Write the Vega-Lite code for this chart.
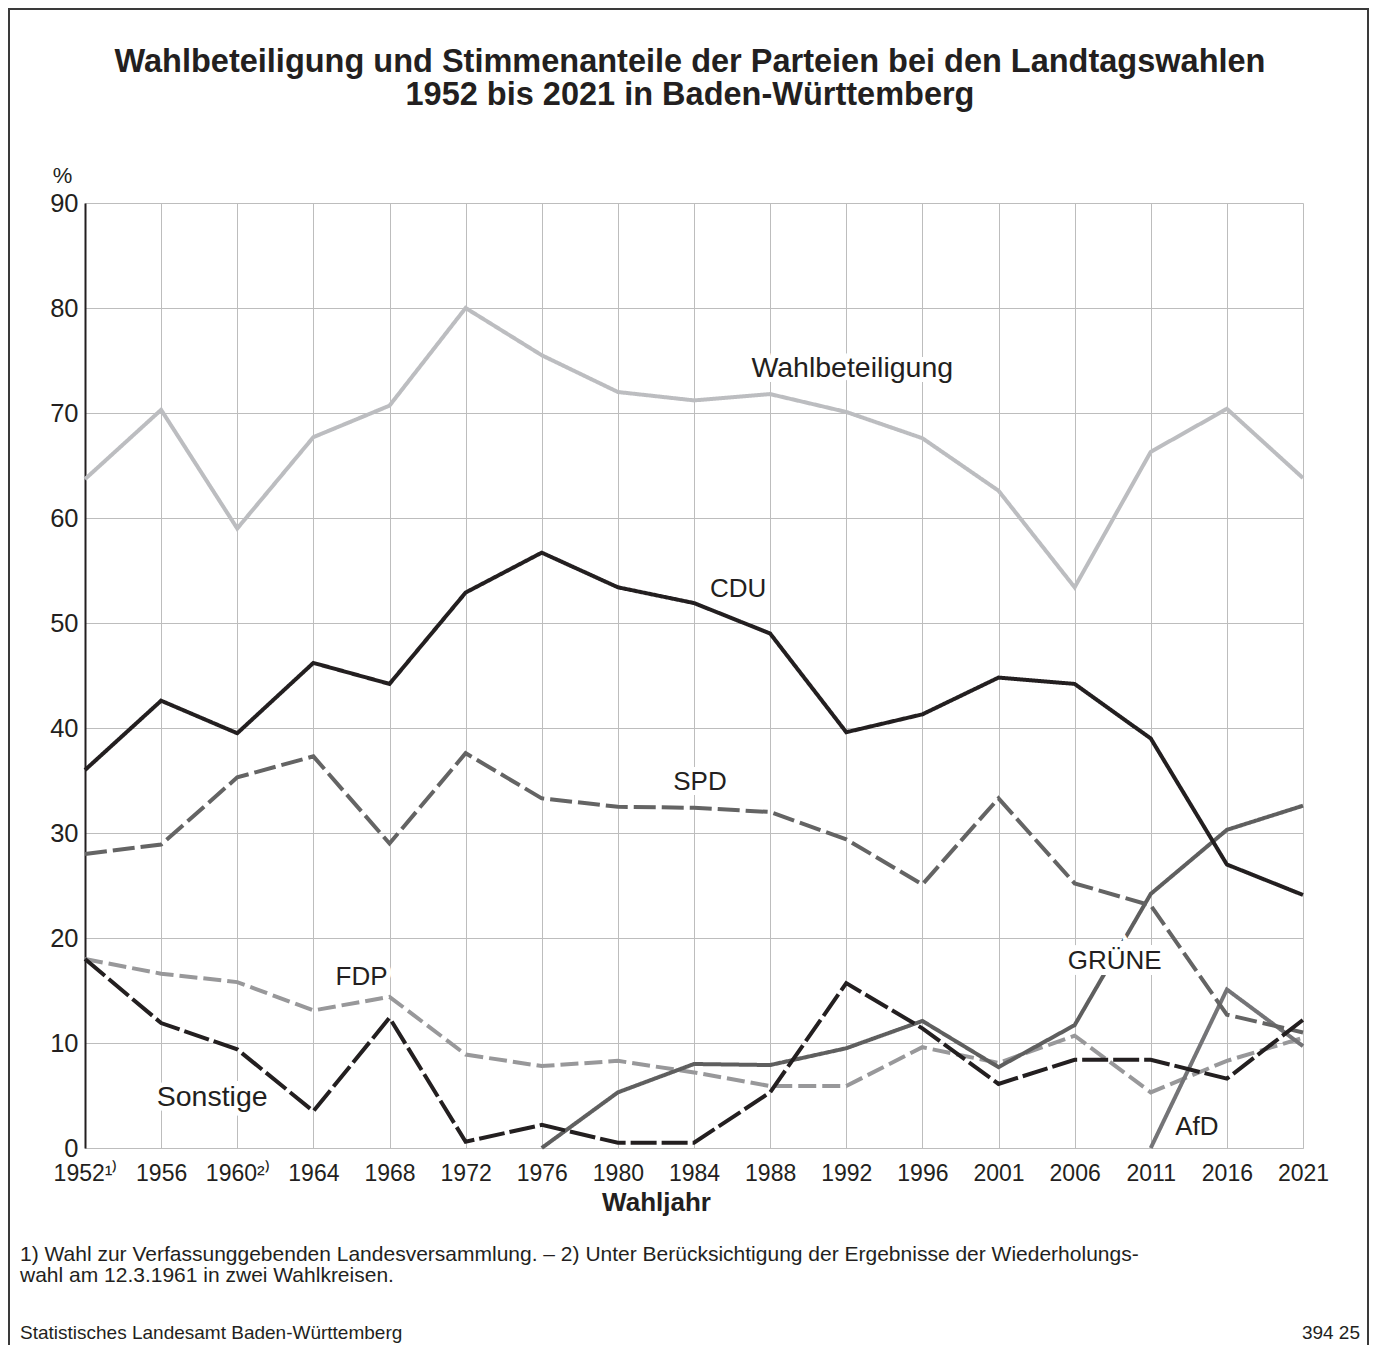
{
  "$schema": "https://vega.github.io/schema/vega-lite/v6.json",
  "width": 1218,
  "height": 945,
  "autosize": "none",
  "padding": {"left": 85, "top": 203, "right": 72, "bottom": 197},
  "background": "white",
  "title": {
    "text": ["Wahlbeteiligung und Stimmenanteile der Parteien bei den Landtagswahlen", "1952 bis 2021 in Baden-Württemberg"],
    "anchor": "middle",
    "fontSize": 32.5,
    "fontWeight": "bold",
    "font": "Liberation Sans",
    "color": "#231f20",
    "lineHeight": 33,
    "offset": 0,
    "dy": 103,
    "dx": -4
  },
  "datasets": {
    "series": [
      {"Reihe": "Wahlbeteiligung", "Jahr": "1952", "Prozent": 63.7},
      {"Reihe": "Wahlbeteiligung", "Jahr": "1956", "Prozent": 70.3},
      {"Reihe": "Wahlbeteiligung", "Jahr": "1960", "Prozent": 59.0},
      {"Reihe": "Wahlbeteiligung", "Jahr": "1964", "Prozent": 67.7},
      {"Reihe": "Wahlbeteiligung", "Jahr": "1968", "Prozent": 70.7},
      {"Reihe": "Wahlbeteiligung", "Jahr": "1972", "Prozent": 80.0},
      {"Reihe": "Wahlbeteiligung", "Jahr": "1976", "Prozent": 75.5},
      {"Reihe": "Wahlbeteiligung", "Jahr": "1980", "Prozent": 72.0},
      {"Reihe": "Wahlbeteiligung", "Jahr": "1984", "Prozent": 71.2},
      {"Reihe": "Wahlbeteiligung", "Jahr": "1988", "Prozent": 71.8},
      {"Reihe": "Wahlbeteiligung", "Jahr": "1992", "Prozent": 70.1},
      {"Reihe": "Wahlbeteiligung", "Jahr": "1996", "Prozent": 67.6},
      {"Reihe": "Wahlbeteiligung", "Jahr": "2001", "Prozent": 62.6},
      {"Reihe": "Wahlbeteiligung", "Jahr": "2006", "Prozent": 53.4},
      {"Reihe": "Wahlbeteiligung", "Jahr": "2011", "Prozent": 66.3},
      {"Reihe": "Wahlbeteiligung", "Jahr": "2016", "Prozent": 70.4},
      {"Reihe": "Wahlbeteiligung", "Jahr": "2021", "Prozent": 63.8},
      {"Reihe": "FDP", "Jahr": "1952", "Prozent": 18.0},
      {"Reihe": "FDP", "Jahr": "1956", "Prozent": 16.6},
      {"Reihe": "FDP", "Jahr": "1960", "Prozent": 15.8},
      {"Reihe": "FDP", "Jahr": "1964", "Prozent": 13.1},
      {"Reihe": "FDP", "Jahr": "1968", "Prozent": 14.4},
      {"Reihe": "FDP", "Jahr": "1972", "Prozent": 8.9},
      {"Reihe": "FDP", "Jahr": "1976", "Prozent": 7.8},
      {"Reihe": "FDP", "Jahr": "1980", "Prozent": 8.3},
      {"Reihe": "FDP", "Jahr": "1984", "Prozent": 7.2},
      {"Reihe": "FDP", "Jahr": "1988", "Prozent": 5.9},
      {"Reihe": "FDP", "Jahr": "1992", "Prozent": 5.9},
      {"Reihe": "FDP", "Jahr": "1996", "Prozent": 9.6},
      {"Reihe": "FDP", "Jahr": "2001", "Prozent": 8.1},
      {"Reihe": "FDP", "Jahr": "2006", "Prozent": 10.7},
      {"Reihe": "FDP", "Jahr": "2011", "Prozent": 5.3},
      {"Reihe": "FDP", "Jahr": "2016", "Prozent": 8.3},
      {"Reihe": "FDP", "Jahr": "2021", "Prozent": 10.5},
      {"Reihe": "GRÜNE", "Jahr": "1976", "Prozent": 0.0},
      {"Reihe": "GRÜNE", "Jahr": "1980", "Prozent": 5.3},
      {"Reihe": "GRÜNE", "Jahr": "1984", "Prozent": 8.0},
      {"Reihe": "GRÜNE", "Jahr": "1988", "Prozent": 7.9},
      {"Reihe": "GRÜNE", "Jahr": "1992", "Prozent": 9.5},
      {"Reihe": "GRÜNE", "Jahr": "1996", "Prozent": 12.1},
      {"Reihe": "GRÜNE", "Jahr": "2001", "Prozent": 7.7},
      {"Reihe": "GRÜNE", "Jahr": "2006", "Prozent": 11.7},
      {"Reihe": "GRÜNE", "Jahr": "2011", "Prozent": 24.2},
      {"Reihe": "GRÜNE", "Jahr": "2016", "Prozent": 30.3},
      {"Reihe": "GRÜNE", "Jahr": "2021", "Prozent": 32.6},
      {"Reihe": "AfD", "Jahr": "2011", "Prozent": 0.0},
      {"Reihe": "AfD", "Jahr": "2016", "Prozent": 15.1},
      {"Reihe": "AfD", "Jahr": "2021", "Prozent": 9.7},
      {"Reihe": "SPD", "Jahr": "1952", "Prozent": 28.0},
      {"Reihe": "SPD", "Jahr": "1956", "Prozent": 28.9},
      {"Reihe": "SPD", "Jahr": "1960", "Prozent": 35.3},
      {"Reihe": "SPD", "Jahr": "1964", "Prozent": 37.3},
      {"Reihe": "SPD", "Jahr": "1968", "Prozent": 29.0},
      {"Reihe": "SPD", "Jahr": "1972", "Prozent": 37.6},
      {"Reihe": "SPD", "Jahr": "1976", "Prozent": 33.3},
      {"Reihe": "SPD", "Jahr": "1980", "Prozent": 32.5},
      {"Reihe": "SPD", "Jahr": "1984", "Prozent": 32.4},
      {"Reihe": "SPD", "Jahr": "1988", "Prozent": 32.0},
      {"Reihe": "SPD", "Jahr": "1992", "Prozent": 29.4},
      {"Reihe": "SPD", "Jahr": "1996", "Prozent": 25.1},
      {"Reihe": "SPD", "Jahr": "2001", "Prozent": 33.3},
      {"Reihe": "SPD", "Jahr": "2006", "Prozent": 25.2},
      {"Reihe": "SPD", "Jahr": "2011", "Prozent": 23.1},
      {"Reihe": "SPD", "Jahr": "2016", "Prozent": 12.7},
      {"Reihe": "SPD", "Jahr": "2021", "Prozent": 11.0},
      {"Reihe": "CDU", "Jahr": "1952", "Prozent": 36.0},
      {"Reihe": "CDU", "Jahr": "1956", "Prozent": 42.6},
      {"Reihe": "CDU", "Jahr": "1960", "Prozent": 39.5},
      {"Reihe": "CDU", "Jahr": "1964", "Prozent": 46.2},
      {"Reihe": "CDU", "Jahr": "1968", "Prozent": 44.2},
      {"Reihe": "CDU", "Jahr": "1972", "Prozent": 52.9},
      {"Reihe": "CDU", "Jahr": "1976", "Prozent": 56.7},
      {"Reihe": "CDU", "Jahr": "1980", "Prozent": 53.4},
      {"Reihe": "CDU", "Jahr": "1984", "Prozent": 51.9},
      {"Reihe": "CDU", "Jahr": "1988", "Prozent": 49.0},
      {"Reihe": "CDU", "Jahr": "1992", "Prozent": 39.6},
      {"Reihe": "CDU", "Jahr": "1996", "Prozent": 41.3},
      {"Reihe": "CDU", "Jahr": "2001", "Prozent": 44.8},
      {"Reihe": "CDU", "Jahr": "2006", "Prozent": 44.2},
      {"Reihe": "CDU", "Jahr": "2011", "Prozent": 39.0},
      {"Reihe": "CDU", "Jahr": "2016", "Prozent": 27.0},
      {"Reihe": "CDU", "Jahr": "2021", "Prozent": 24.1},
      {"Reihe": "Sonstige", "Jahr": "1952", "Prozent": 18.0},
      {"Reihe": "Sonstige", "Jahr": "1956", "Prozent": 11.9},
      {"Reihe": "Sonstige", "Jahr": "1960", "Prozent": 9.4},
      {"Reihe": "Sonstige", "Jahr": "1964", "Prozent": 3.5},
      {"Reihe": "Sonstige", "Jahr": "1968", "Prozent": 12.4},
      {"Reihe": "Sonstige", "Jahr": "1972", "Prozent": 0.6},
      {"Reihe": "Sonstige", "Jahr": "1976", "Prozent": 2.2},
      {"Reihe": "Sonstige", "Jahr": "1980", "Prozent": 0.5},
      {"Reihe": "Sonstige", "Jahr": "1984", "Prozent": 0.5},
      {"Reihe": "Sonstige", "Jahr": "1988", "Prozent": 5.3},
      {"Reihe": "Sonstige", "Jahr": "1992", "Prozent": 15.7},
      {"Reihe": "Sonstige", "Jahr": "1996", "Prozent": 11.4},
      {"Reihe": "Sonstige", "Jahr": "2001", "Prozent": 6.1},
      {"Reihe": "Sonstige", "Jahr": "2006", "Prozent": 8.4},
      {"Reihe": "Sonstige", "Jahr": "2011", "Prozent": 8.4},
      {"Reihe": "Sonstige", "Jahr": "2016", "Prozent": 6.6},
      {"Reihe": "Sonstige", "Jahr": "2021", "Prozent": 12.2}
    ],
    "labels": [
      {"label": "Wahlbeteiligung", "Jahr": "1992", "Prozent": 74.3},
      {"label": "CDU", "Jahr": "1988", "Prozent": 53.2},
      {"label": "SPD", "Jahr": "1984", "Prozent": 34.9},
      {"label": "FDP", "Jahr": "1968", "Prozent": 16.3},
      {"label": "Sonstige", "Jahr": "1956", "Prozent": 4.9},
      {"label": "GRÜNE", "Jahr": "2011", "Prozent": 17.8},
      {"label": "AfD", "Jahr": "2016", "Prozent": 2.0}
    ],
    "footer": [
      {"row": "note1", "pos": "left", "kind": "note", "text": "1) Wahl zur Verfassunggebenden Landesversammlung. – 2) Unter Berücksichtigung der Ergebnisse der Wiederholungs-"},
      {"row": "note2", "pos": "left", "kind": "note", "text": "wahl am 12.3.1961 in zwei Wahlkreisen."},
      {"row": "source", "pos": "left", "kind": "source", "text": "Statistisches Landesamt Baden-Württemberg"},
      {"row": "source", "pos": "right", "kind": "code", "text": "394 25"}
    ]
  },
  "layer": [
    {
      "encoding": {
        "x": {
          "field": "Jahr",
          "type": "ordinal",
          "scale": {"type": "point", "padding": 0, "domain": ["1952","1956","1960","1964","1968","1972","1976","1980","1984","1988","1992","1996","2001","2006","2011","2016","2021"]},
          "axis": {
            "title": "Wahljahr",
            "labelAngle": 0,
            "labelFontSize": 23,
            "labelPadding": 14,
            "labelOverlap": false,
            "labelExpr": "datum.value == '1952' ? '1952¹⁾' : datum.value == '1960' ? '1960²⁾' : datum.label",
            "ticks": false,
            "domain": true,
            "domainColor": "#bdbdbd",
            "domainWidth": 1,
            "grid": true,
            "titleFontSize": 26,
            "titleFontWeight": "bold",
            "titleX": 571,
            "titleY": 54,
            "titleBaseline": "middle"
          }
        },
        "y": {
          "field": "Prozent",
          "type": "quantitative",
          "scale": {"domain": [0, 90], "nice": false},
          "axis": {
            "title": "%",
            "values": [0,10,20,30,40,50,60,70,80,90],
            "labelFontSize": 25.5,
            "labelPadding": 7,
            "ticks": false,
            "domain": true,
            "domainColor": "#231f20",
            "domainWidth": 2,
            "grid": true,
            "titleAngle": 0,
            "titleX": -23,
            "titleY": -28,
            "titleAlign": "center",
            "titleBaseline": "middle",
            "titleFontSize": 22,
            "titleFontWeight": "normal"
          }
        }
      },
      "layer": [
        {
          "data": {"name": "series"},
          "mark": {"type": "line", "strokeWidth": 4, "strokeCap": "butt", "strokeJoin": "miter"},
          "encoding": {
            "color": {
              "field": "Reihe",
              "type": "nominal",
              "legend": null,
              "scale": {
                "domain": ["Wahlbeteiligung", "FDP", "GRÜNE", "AfD", "SPD", "CDU", "Sonstige"],
                "range": ["#bcbdc0", "#98989a", "#5f5f5f", "#747477", "#646464", "#231f20", "#231f20"]
              }
            },
            "strokeDash": {
              "field": "Reihe",
              "type": "nominal",
              "legend": null,
              "scale": {
                "domain": ["Wahlbeteiligung", "FDP", "GRÜNE", "AfD", "SPD", "CDU", "Sonstige"],
                "range": [[1, 0], [18, 6], [1, 0], [1, 0], [22, 6], [1, 0], [26, 5]]
              }
            }
          }
        },
        {
          "data": {"name": "labels"},
          "transform": [{"filter": "datum.label == 'Wahlbeteiligung'"}],
          "encoding": {"text": {"field": "label"}},
          "layer": [
            {"mark": {"type": "text", "fontSize": 28.5, "dx": 6, "fill": "white", "stroke": "white", "strokeWidth": 10}},
            {"mark": {"type": "text", "fontSize": 28.5, "dx": 6, "color": "#231f20"}}
          ]
        },
        {
          "data": {"name": "labels"},
          "transform": [{"filter": "datum.label == 'CDU'"}],
          "encoding": {"text": {"field": "label"}},
          "layer": [
            {"mark": {"type": "text", "fontSize": 26, "dx": -32, "fill": "white", "stroke": "white", "strokeWidth": 10}},
            {"mark": {"type": "text", "fontSize": 26, "dx": -32, "color": "#231f20"}}
          ]
        },
        {
          "data": {"name": "labels"},
          "transform": [{"filter": "datum.label == 'SPD'"}],
          "encoding": {"text": {"field": "label"}},
          "layer": [
            {"mark": {"type": "text", "fontSize": 26, "dx": 6, "fill": "white", "stroke": "white", "strokeWidth": 10}},
            {"mark": {"type": "text", "fontSize": 26, "dx": 6, "color": "#231f20"}}
          ]
        },
        {
          "data": {"name": "labels"},
          "transform": [{"filter": "datum.label == 'FDP'"}],
          "encoding": {"text": {"field": "label"}},
          "layer": [
            {"mark": {"type": "text", "fontSize": 26, "dx": -28, "fill": "white", "stroke": "white", "strokeWidth": 10}},
            {"mark": {"type": "text", "fontSize": 26, "dx": -28, "color": "#231f20"}}
          ]
        },
        {
          "data": {"name": "labels"},
          "transform": [{"filter": "datum.label == 'Sonstige'"}],
          "encoding": {"text": {"field": "label"}},
          "layer": [
            {"mark": {"type": "text", "fontSize": 28.5, "dx": 51, "fill": "white", "stroke": "white", "strokeWidth": 10}},
            {"mark": {"type": "text", "fontSize": 28.5, "dx": 51, "color": "#231f20"}}
          ]
        },
        {
          "data": {"name": "labels"},
          "transform": [{"filter": "datum.label == 'GRÜNE'"}],
          "encoding": {"text": {"field": "label"}},
          "layer": [
            {"mark": {"type": "text", "fontSize": 26, "dx": -36, "fill": "white", "stroke": "white", "strokeWidth": 12}},
            {"mark": {"type": "text", "fontSize": 26, "dx": -36, "color": "#231f20"}}
          ]
        },
        {
          "data": {"name": "labels"},
          "transform": [{"filter": "datum.label == 'AfD'"}],
          "encoding": {"text": {"field": "label"}},
          "layer": [
            {"mark": {"type": "text", "fontSize": 26, "dx": -30, "fill": "white", "stroke": "white", "strokeWidth": 10}},
            {"mark": {"type": "text", "fontSize": 26, "dx": -30, "color": "#231f20"}}
          ]
        }
      ]
    },
    {
      "data": {"name": "footer"},
      "encoding": {
        "x": {"field": "pos", "type": "nominal", "axis": null, "scale": {"type": "point", "padding": 0, "domain": ["left", "right"], "range": [-65, 1275]}},
        "y": {"field": "row", "type": "nominal", "axis": null, "scale": {"type": "point", "padding": 0, "domain": ["note1", "note2", "gap1", "gap2", "source"], "range": [1052, 1136]}},
        "text": {"field": "text"}
      },
      "layer": [
        {"transform": [{"filter": "datum.kind == 'note'"}], "mark": {"type": "text", "align": "left", "baseline": "middle", "fontSize": 21, "color": "#231f20"}},
        {"transform": [{"filter": "datum.kind == 'source'"}], "mark": {"type": "text", "align": "left", "baseline": "middle", "fontSize": 19, "dy": -6, "color": "#231f20"}},
        {"transform": [{"filter": "datum.kind == 'code'"}], "mark": {"type": "text", "align": "right", "baseline": "middle", "fontSize": 19, "dy": -6, "color": "#231f20"}}
      ]
    },
    {
      "data": {"values": [{}]},
      "mark": {"type": "rect", "fill": null, "filled": false, "stroke": "#3a3a3a", "strokeWidth": 2},
      "encoding": {
        "x": {"datum": "left", "type": "nominal", "axis": null, "scale": {"type": "point", "padding": 0, "domain": ["left", "right"], "range": [-76, 1283]}},
        "x2": {"datum": "right"},
        "y": {"datum": "top", "type": "nominal", "axis": null, "scale": {"type": "point", "padding": 0, "domain": ["top", "bottom"], "range": [-194, 1170]}},
        "y2": {"datum": "bottom"}
      }
    }
  ],
  "resolve": {"scale": {"x": "independent", "y": "independent"}},
  "config": {
    "font": "Liberation Sans",
    "view": {"stroke": null},
    "axis": {
      "labelColor": "#231f20",
      "titleColor": "#231f20",
      "gridColor": "#bdbdbd",
      "gridWidth": 1,
      "labelFont": "Liberation Sans",
      "titleFont": "Liberation Sans"
    },
    "text": {"font": "Liberation Sans"}
  }
}
